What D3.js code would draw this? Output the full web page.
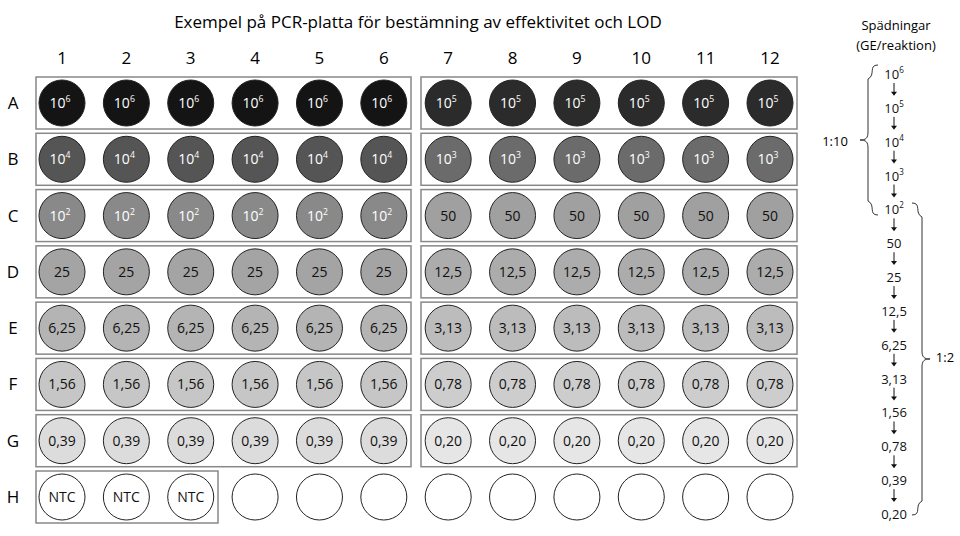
<!DOCTYPE html><html><head><meta charset="utf-8"><script src="https://cdn.jsdelivr.net/npm/d3@7"></script>
<style>body{margin:0;background:#fff}text{font-family:"Open Sans","Noto Sans",sans-serif}</style></head><body><svg id="c" width="960" height="536"></svg><script>
const cols=["1","2","3","4","5","6","7","8","9","10","11","12"];
const rows=["A","B","C","D","E","F","G","H"];
const leftVals=[["10","6"],["10","4"],["10","2"],["25",""],["6,25",""],["1,56",""],["0,39",""],["NTC",""]];
const rightVals=[["10","5"],["10","3"],["50",""],["12,5",""],["3,13",""],["0,78",""],["0,20",""],["",""]];
const leftFill=["#141414","#555555","#898989","#a4a4a4","#b4b4b4","#c6c6c6","#dcdcdc","#ffffff"];
const rightFill=["#2b2b2b","#6b6b6b","#a0a0a0","#acacac","#bcbcbc","#cdcdcd","#e6e6e6","#ffffff"];
const leftText=["#fff","#fff","#fff","#111","#111","#111","#111","#111"];
const rightText=["#fff","#fff","#111","#111","#111","#111","#111","#111"];
const dil=[["10","6"],["10","5"],["10","4"],["10","3"],["10","2"],["50",""],["25",""],["12,5",""],["6,25",""],["3,13",""],["1,56",""],["0,78",""],["0,39",""],["0,20",""]];
const svg=d3.select("#c");
const x=d3.scalePoint().domain(cols).range([62,770]);
const y=d3.scalePoint().domain(rows).range([103,497]);
svg.append("text").attr("x",418).attr("y",28).attr("text-anchor","middle").attr("font-size",17).text("Exempel på PCR-platta för bestämning av effektivitet och LOD");
cols.forEach(c=>svg.append("text").attr("x",x(c)).attr("y",64).attr("text-anchor","middle").attr("font-size",17).text(c));
rows.forEach(r=>svg.append("text").attr("x",13).attr("y",y(r)+6).attr("text-anchor","middle").attr("font-size",17).text(r));
function lab(g,cx,cy,v,col,fs){const t=g.append("text").attr("x",cx).attr("y",cy+5).attr("text-anchor","middle").attr("font-size",fs).attr("fill",col);t.append("tspan").text(v[0]);if(v[1])t.append("tspan").attr("font-size",fs*0.62).attr("dy",-6).text(v[1]);}
rows.forEach((r,i)=>{
  const yy=y(r);
  const boxes=i<7?[[36,411],[421,797]]:[[36,218]];
  boxes.forEach(b=>svg.append("rect").attr("x",b[0]).attr("y",yy-26).attr("width",b[1]-b[0]).attr("height",52).attr("fill","none").attr("stroke","#888").attr("stroke-width",1.5));
  cols.forEach((c,j)=>{
    const L=j<6;
    const v=(i==7&&j>=3)?["",""]:(L?leftVals[i]:rightVals[i]);
    svg.append("circle").attr("cx",x(c)).attr("cy",yy).attr("r",23).attr("fill",L?leftFill[i]:rightFill[i]).attr("stroke","#222").attr("stroke-width",1);
    lab(svg,x(c)+(v[1]?-2:0),yy,v,L?leftText[i]:rightText[i],14);
  });
});
svg.append("text").attr("x",896).attr("y",30).attr("text-anchor","middle").attr("font-size",13).text("Spädningar");
svg.append("text").attr("x",896).attr("y",50).attr("text-anchor","middle").attr("font-size",13).text("(GE/reaktion)");
const dy=d3.scalePoint().domain(d3.range(dil.length)).range([74,514]);
dil.forEach((v,i)=>{lab(svg,894,dy(i),v,"#111",13);
  if(i<dil.length-1){const y1=dy(i)+9,y2=dy(i+1)-12;
    svg.append("line").attr("x1",894).attr("x2",894).attr("y1",y1).attr("y2",y2-3).attr("stroke","#111");
    svg.append("path").attr("d",`M891,${y2-4}L897,${y2-4}L894,${y2}Z`).attr("fill","#111");}});
function brace(xe,y0,y1,dir){const m=(y0+y1)/2,xm=xe-dir*10;
  return `M${xe},${y0} C${xm},${y0} ${xe-dir*2},${y0+10} ${xm},${y0+14} L${xm},${m-8} C${xm},${m-2} ${xm-dir*2},${m} ${xm-dir*8},${m} C${xm-dir*2},${m} ${xm},${m+2} ${xm},${m+8} L${xm},${y1-14} C${xe-dir*2},${y1-10} ${xm},${y1} ${xe},${y1}`;}
svg.append("path").attr("d",brace(878,65,215,1)).attr("fill","none").attr("stroke","#333");
svg.append("text").attr("x",835).attr("y",146).attr("text-anchor","middle").attr("font-size",13).text("1:10");
svg.append("path").attr("d",brace(912,203,515,-1)).attr("fill","none").attr("stroke","#333");
svg.append("text").attr("x",945).attr("y",362).attr("text-anchor","middle").attr("font-size",13).text("1:2");
</script></body></html>
